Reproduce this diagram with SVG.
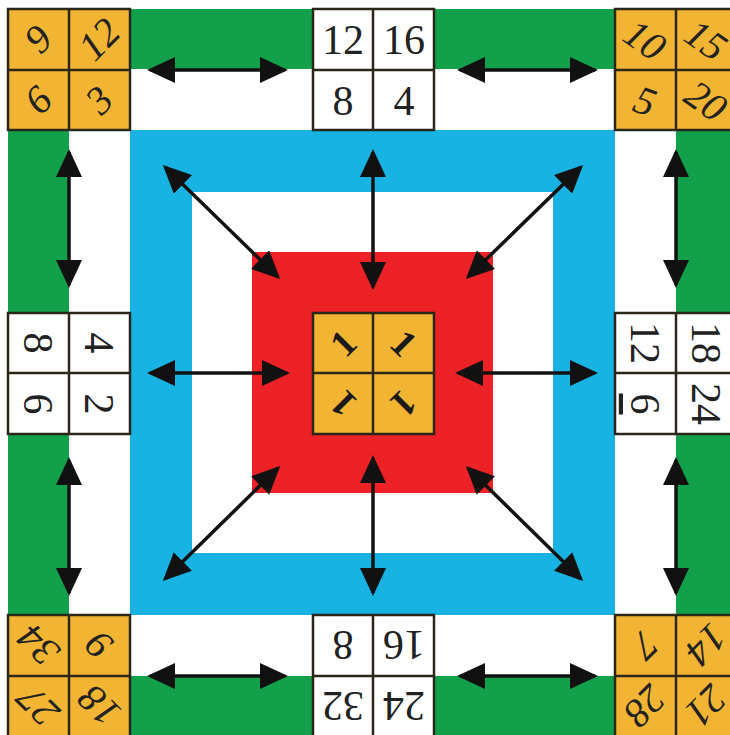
<svg xmlns="http://www.w3.org/2000/svg" width="730" height="735" viewBox="0 0 730 735">
<style>
.box rect{stroke:#2a2718;stroke-width:2.5}
.box line{stroke:#2a2718;stroke-width:2.5}
.w{fill:#ffffff}
.o{fill:#f2b533}
.t{font-family:"Liberation Serif",serif;font-size:42px;fill:#222;text-anchor:middle;dominant-baseline:central}
.it{font-family:"Liberation Serif",serif;font-style:italic;font-size:40px;fill:#222;text-anchor:middle;dominant-baseline:central}
.c{font-family:"Liberation Serif",serif;font-weight:bold;font-size:38px;fill:#1a1a1a;text-anchor:middle;dominant-baseline:central}
.arr line{stroke:#111;stroke-width:3.5;marker-start:url(#ah);marker-end:url(#ah)}
</style>
<defs>
<marker id="ah" viewBox="0 0 28 26" refX="25" refY="13" markerWidth="28" markerHeight="26" markerUnits="userSpaceOnUse" orient="auto-start-reverse">
<path d="M0,0 L28,13 L0,26 Z" fill="#111"/>
</marker>
</defs>
<rect width="730" height="735" fill="#ffffff"/>
<g id="bands">
<rect x="8" y="9" width="729" height="729" fill="#13a04b"/>
<rect x="69" y="69" width="607" height="607" fill="#ffffff"/>
<rect x="130" y="130" width="485" height="485" fill="#18b3e3"/>
<rect x="192" y="192" width="361" height="361" fill="#ffffff"/>
<rect x="252" y="252" width="241" height="241" fill="#ec2227"/>
</g>
<g id="connectors" class="arr">
<line x1="150" y1="70" x2="285" y2="70"/>
<line x1="460" y1="70" x2="595" y2="70"/>
<line x1="150" y1="676" x2="285" y2="676"/>
<line x1="460" y1="676" x2="595" y2="676"/>
<line x1="69" y1="152" x2="69" y2="285"/>
<line x1="69" y1="460" x2="69" y2="593"/>
<line x1="676" y1="152" x2="676" y2="285"/>
<line x1="676" y1="460" x2="676" y2="593"/>
<line x1="373" y1="152" x2="373" y2="287"/>
<line x1="373" y1="458" x2="373" y2="593"/>
<line x1="150" y1="373" x2="287" y2="373"/>
<line x1="458" y1="373" x2="595" y2="373"/>
<line x1="165" y1="167" x2="278" y2="277"/>
<line x1="581" y1="167" x2="468" y2="277"/>
<line x1="165" y1="579" x2="278" y2="468"/>
<line x1="581" y1="579" x2="468" y2="468"/>
</g>
<g id="box-top-left" class="box">
<rect class="o" x="8" y="9" width="122" height="121"/>
<line x1="69" y1="9" x2="69" y2="130"/><line x1="8" y1="70" x2="130" y2="70"/>
<text class="it" x="38" y="39" transform="rotate(-45 38 39)">9</text>
<text class="it" x="99" y="39" transform="rotate(-45 99 39)">12</text>
<text class="it" x="38" y="100" transform="rotate(-45 38 100)">6</text>
<text class="it" x="99" y="100" transform="rotate(-45 99 100)">3</text>
</g>
<g id="box-top" class="box">
<rect class="w" x="313" y="9" width="121" height="121"/>
<line x1="373" y1="9" x2="373" y2="130"/><line x1="313" y1="70" x2="434" y2="70"/>
<text class="t" x="343" y="40">12</text>
<text class="t" x="404" y="40">16</text>
<text class="t" x="343" y="101">8</text>
<text class="t" x="404" y="101">4</text>
</g>
<g id="box-top-right" class="box">
<rect class="o" x="615" y="9" width="122" height="121"/>
<line x1="676" y1="9" x2="676" y2="130"/><line x1="615" y1="70" x2="737" y2="70"/>
<text class="it" x="645" y="40" transform="rotate(35 645 40)">10</text>
<text class="it" x="706" y="40" transform="rotate(35 706 40)">15</text>
<text class="it" x="645" y="101" transform="rotate(20 645 101)">5</text>
<text class="it" x="706" y="101" transform="rotate(35 706 101)">20</text>
</g>
<g id="box-left" class="box">
<rect class="w" x="8" y="313" width="122" height="121"/>
<line x1="69" y1="313" x2="69" y2="434"/><line x1="8" y1="373" x2="130" y2="373"/>
<text class="t" x="38" y="343" transform="rotate(90 38 343)">8</text>
<text class="t" x="99" y="343" transform="rotate(90 99 343)">4</text>
<text class="t" x="38" y="404" transform="rotate(90 38 404)">6</text>
<text class="t" x="99" y="404" transform="rotate(90 99 404)">2</text>
</g>
<g id="box-center" class="box">
<rect class="o" x="313" y="313" width="121" height="121"/>
<line x1="373" y1="313" x2="373" y2="434"/><line x1="313" y1="373" x2="434" y2="373"/>
<text class="c" x="343" y="343" transform="rotate(-45 343 343)">1</text>
<text class="c" x="404" y="343" transform="rotate(45 404 343)">1</text>
<text class="c" x="343" y="404" transform="rotate(-135 343 404)">1</text>
<text class="c" x="404" y="404" transform="rotate(135 404 404)">1</text>
</g>
<g id="box-right" class="box">
<rect class="w" x="615" y="313" width="122" height="121"/>
<line x1="676" y1="313" x2="676" y2="434"/><line x1="615" y1="373" x2="737" y2="373"/>
<text class="t" x="645" y="343" transform="rotate(90 645 343)">12</text>
<text class="t" x="706" y="343" transform="rotate(90 706 343)">18</text>
<text class="t" x="645" y="404" transform="rotate(90 645 404)" style="text-decoration:underline">6</text>
<text class="t" x="706" y="404" transform="rotate(90 706 404)">24</text>
</g>
<g id="box-bottom-left" class="box">
<rect class="o" x="8" y="615" width="122" height="122"/>
<line x1="69" y1="615" x2="69" y2="737"/><line x1="8" y1="676" x2="130" y2="676"/>
<text class="it" x="38" y="645" transform="rotate(-135 38 645)">34</text>
<text class="it" x="99" y="645" transform="rotate(-135 99 645)">9</text>
<text class="it" x="38" y="706" transform="rotate(-135 38 706)">27</text>
<text class="it" x="99" y="706" transform="rotate(-135 99 706)">18</text>
</g>
<g id="box-bottom" class="box">
<rect class="w" x="313" y="615" width="121" height="122"/>
<line x1="373" y1="615" x2="373" y2="737"/><line x1="313" y1="676" x2="434" y2="676"/>
<text class="t" x="343" y="645" transform="rotate(180 343 645)">8</text>
<text class="t" x="404" y="645" transform="rotate(180 404 645)">16</text>
<text class="t" x="343" y="706" transform="rotate(180 343 706)">32</text>
<text class="t" x="404" y="706" transform="rotate(180 404 706)">24</text>
</g>
<g id="box-bottom-right" class="box">
<rect class="o" x="615" y="615" width="122" height="122"/>
<line x1="676" y1="615" x2="676" y2="737"/><line x1="615" y1="676" x2="737" y2="676"/>
<text class="it" x="645" y="645" transform="rotate(135 645 645)">7</text>
<text class="it" x="706" y="645" transform="rotate(135 706 645)">14</text>
<text class="it" x="645" y="706" transform="rotate(135 645 706)">28</text>
<text class="it" x="706" y="706" transform="rotate(135 706 706)">21</text>
</g>
</svg>
